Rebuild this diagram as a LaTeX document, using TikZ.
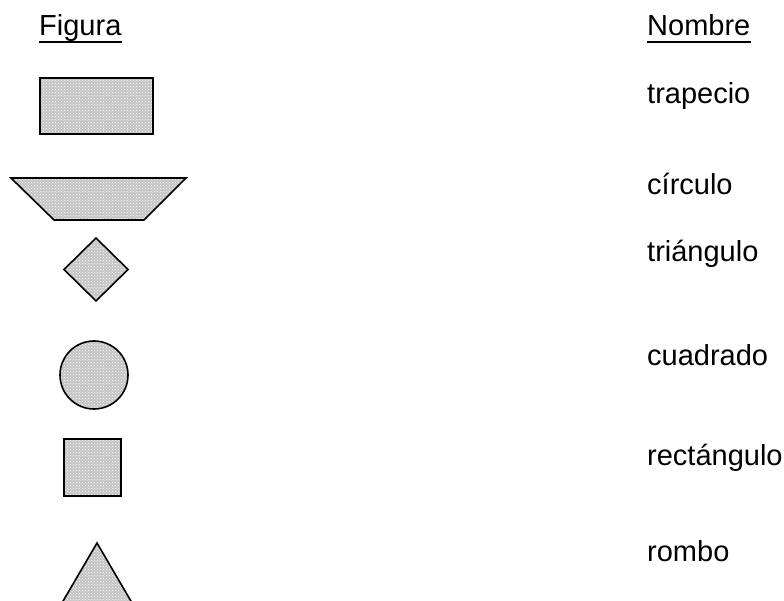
\documentclass[tikz,border=0pt]{standalone}
\usepackage{fontspec}
\setmainfont{Liberation Sans}
\usetikzlibrary{patterns}
\definecolor{shadegray}{RGB}{196,196,196}
\tikzset{
  shapefill/.style={draw=black, line width=1.6pt, line join=miter,
    preaction={fill=shadegray}, pattern=crosshatch dots, pattern color=white},
  label/.style={inner sep=0pt, anchor=base west, font=\fontsize{29}{32}\selectfont},
  uline/.style={line width=2pt}
}
\begin{document}
\begin{tikzpicture}[x=1pt,y=-1pt]
\useasboundingbox (0,0) rectangle (784,601);
% headers
\node[label] (fig) at (39,36) {Figura};
\node[label] (nom) at (647,36) {Nombre};
\draw[uline] ([yshift=-6pt]fig.base west) -- ([yshift=-6pt]fig.base east);
\draw[uline] ([yshift=-6pt]nom.base west) -- ([yshift=-6pt]nom.base east);
% names
\node[label] (n1) at (647,104) {trapecio};
\node[label] (n2) at (647,195) {círculo};
\node[label] (n3) at (647,262) {triángulo};
\node[label] (n4) at (647,365) {cuadrado};
\node[label] (n5) at (647,465) {rectángulo};
\node[label] (n6) at (647,561) {rombo};
% shapes
\draw[shapefill] (40,78) rectangle (153,134);
\draw[shapefill] (11,178) -- (186,178) -- (144,220) -- (54,220) -- cycle;
\draw[shapefill] (96,238) -- (128,269.5) -- (96,301) -- (64,269.5) -- cycle;
\draw[shapefill] (94,375) circle[radius=34];
\draw[shapefill] (64,439) rectangle (121,496);
\begin{scope}
\clip (0,0) rectangle (784,601);
\draw[shapefill] (97,543) -- (142,620) -- (52,620) -- cycle;
\end{scope}
\end{tikzpicture}
\end{document}
